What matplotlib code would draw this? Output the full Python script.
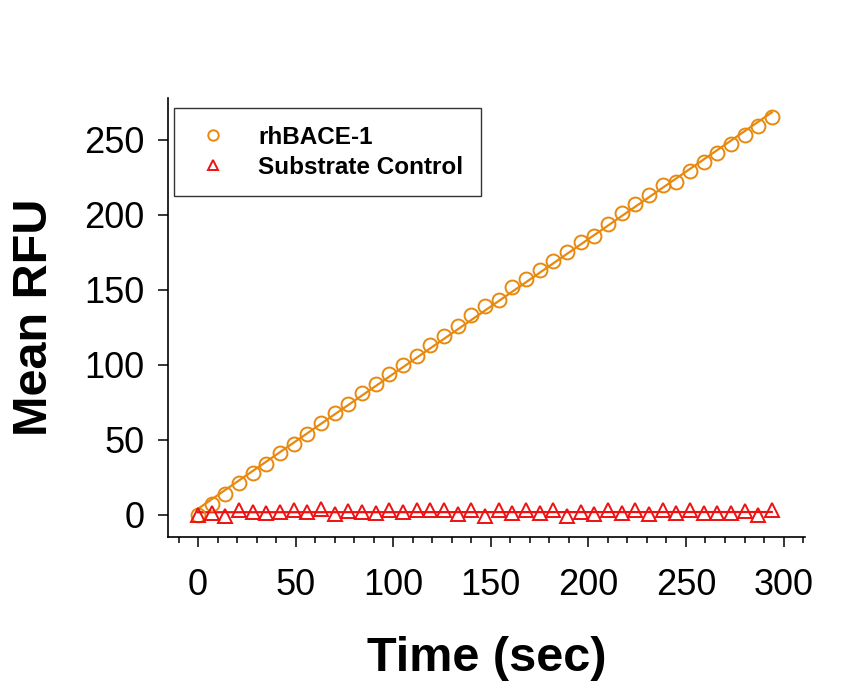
import numpy as np
import matplotlib
matplotlib.use("Agg")
import matplotlib.pyplot as plt
from matplotlib.ticker import MultipleLocator

plt.rcParams['font.family'] = ['Liberation Sans', 'DejaVu Sans']

# time points (sec)
time = np.arange(0, 295, 7)

# rhBACE-1 mean RFU
bace = [0, 7, 14, 21, 28, 34, 41, 47, 54, 61, 68, 74, 81, 87, 94, 100,
        106, 113, 119, 126, 133, 139, 143, 152, 157, 163, 169, 175, 182,
        186, 194, 201, 207, 213, 220, 222, 229, 235, 241, 247, 253, 259, 265]

# substrate control mean RFU
ctrl = [0, 1, -1, 3, 2, 1.5, 2, 3, 2, 4, 0.5, 2.5, 2, 1, 3, 2, 3, 3,
        3.5, 0.5, 3, -0.5, 3.5, 1.5, 3.5, 1.5, 3.5, -0.5, 2, 0.5, 3, 1,
        3, 0.5, 3.5, 1, 3, 1.5, 1.5, 1, 2.5, 0, 3]

orange = '#E8890F'
red = '#EE1111'

fig = plt.figure(figsize=(8.47, 6.87), dpi=100)
ax = fig.add_axes([168/847, 150/687, 637/847, 439/687])

# linear fits
p1 = np.polyfit(time, bace, 1)
p2 = np.polyfit(time, ctrl, 1)
ax.plot(time, np.polyval(p1, time), color=orange, lw=1.6, zorder=2)
ax.plot(time, np.polyval(p2, time), color=red, lw=1.6, zorder=2)

ax.plot(time, bace, 'o', mfc='none', mec=orange, mew=1.4, ms=10,
        label='rhBACE-1', zorder=3)
ax.plot(time, ctrl, '^', mfc='none', mec=red, mew=1.4, ms=10,
        label='Substrate Control', zorder=3)

ax.set_xlim(-15.4, 311)
ax.set_ylim(-14.7, 278)
ax.xaxis.set_major_locator(MultipleLocator(50))
ax.xaxis.set_minor_locator(MultipleLocator(10))
ax.yaxis.set_major_locator(MultipleLocator(50))

ax.spines['top'].set_visible(False)
ax.spines['right'].set_visible(False)
for s in ['left', 'bottom']:
    ax.spines[s].set_linewidth(1.2)

ax.tick_params(axis='x', which='major', direction='out', length=7, width=1.1,
               labelsize=26, pad=15)
ax.tick_params(axis='x', which='minor', direction='out', length=4, width=1.1)
ax.tick_params(axis='y', which='major', direction='out', length=7, width=1.1,
               labelsize=26, pad=10)

ax.set_xlabel('Time (sec)', fontsize=35, fontweight='bold')
ax.set_ylabel('Mean RFU', fontsize=35, fontweight='bold')
ax.xaxis.set_label_coords(0.5, -0.225)
ax.yaxis.set_label_coords(-0.175, 0.5)

leg = ax.legend(loc='upper left', bbox_to_anchor=(0.0094, 0.977),
                borderaxespad=0, frameon=True, fancybox=False,
                edgecolor='black', markerscale=0.75, handletextpad=1.0,
                borderpad=0.72, labelspacing=0.3, handlelength=1.75,
                prop={'size': 17.5, 'weight': 'bold'})
leg.get_frame().set_linewidth(1.0)

fig.savefig('out.png', dpi=100)
